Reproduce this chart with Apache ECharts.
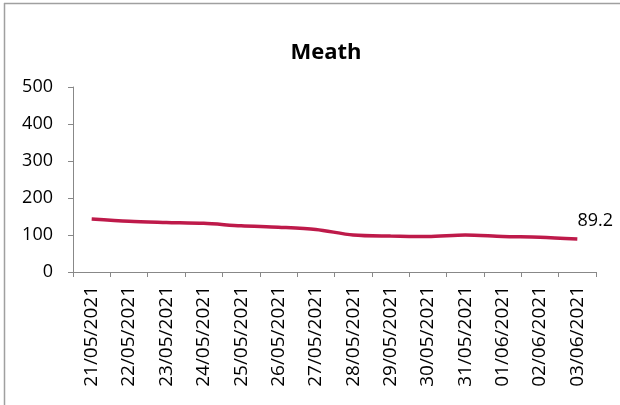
<!DOCTYPE html>
<html>
<head>
<meta charset="utf-8">
<script src="https://cdn.jsdelivr.net/npm/echarts@6/dist/echarts.min.js"></script>
<style>html,body{margin:0;padding:0;background:#fff;}#c{width:620px;height:405px;}</style>
</head>
<body>
<div id="c"></div>
<script>
const categories = ['21/05/2021','22/05/2021','23/05/2021','24/05/2021','25/05/2021','26/05/2021','27/05/2021','28/05/2021','29/05/2021','30/05/2021','31/05/2021','01/06/2021','02/06/2021','03/06/2021'];
const values = [143, 137, 134, 131.5, 125, 121, 115, 100, 97, 96, 100, 96, 94, 89.2];
const yTicks = [0, 100, 200, 300, 400, 500];

const font = '"Open Sans", "Noto Sans", sans-serif';
const chart = echarts.init(document.getElementById('c'), null, {renderer: 'canvas'});
chart.setOption({
  animation: false,
  title: {
    text: 'Meath', left: 321, top: 37, textAlign: 'center',
    textStyle: {fontFamily: font, fontSize: 22, fontWeight: 'bold', color: '#000'}
  },
  graphic: [
    {type: 'line', shape: {x1: 4, y1: 3.5, x2: 620, y2: 3.5}, style: {stroke: '#a0a0a0', lineWidth: 1.5}},
    {type: 'line', shape: {x1: 4.5, y1: 3, x2: 4.5, y2: 405}, style: {stroke: '#a0a0a0', lineWidth: 1.5}}
  ],
  grid: {left: 73, right: 24, top: 87, bottom: 133, containLabel: false},
  xAxis: {
    type: 'category', data: categories, boundaryGap: true,
    axisLine: {lineStyle: {color: '#888', width: 1}},
    axisTick: {show: true, alignWithLabel: false, length: 5, lineStyle: {color: '#888'}},
    axisLabel: {rotate: 90, interval: 0, margin: 14, fontFamily: font, fontSize: 19, color: '#000'}
  },
  yAxis: {
    type: 'value', min: yTicks[0], max: yTicks[yTicks.length - 1], interval: 100,
    axisLine: {show: true, lineStyle: {color: '#888', width: 1}},
    axisTick: {show: true, length: 5, lineStyle: {color: '#888'}},
    splitLine: {show: false},
    axisLabel: {margin: 20, fontFamily: font, fontSize: 18, color: '#000'}
  },
  series: [{
    type: 'line',
    data: values.map((v, i) => i === values.length - 1 ? {value: v, label: {show: true}} : v),
    smooth: 0.3, symbol: 'circle', symbolSize: 0, showSymbol: true,
    lineStyle: {color: '#BE1A4A', width: 3.5},
    itemStyle: {color: '#BE1A4A'},
    label: {show: false, position: 'top', offset: [18, -4], fontFamily: font, fontSize: 18, color: '#000', formatter: p => p.value}
  }]
});
</script>
</body>
</html>
